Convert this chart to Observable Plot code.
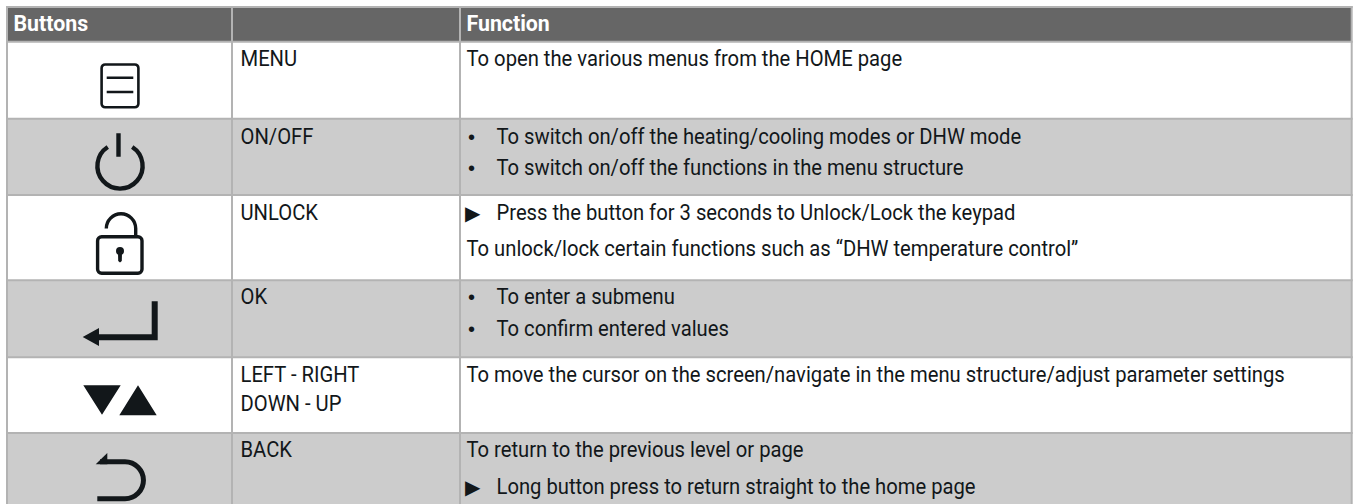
<!DOCTYPE html>
<html>
<head>
<meta charset="utf-8">
<script src="https://cdn.jsdelivr.net/npm/d3@7"></script>
<script src="https://cdn.jsdelivr.net/npm/@observablehq/plot@0.6"></script>
<style>html,body{margin:0;padding:0;background:#fff;overflow:hidden}</style>
</head>
<body>
<div id="chart"></div>
<script>
// Content
const headers = ["Buttons", "", "Function"];
const buttonNames = ["MENU", "ON/OFF", "UNLOCK", "OK", ["LEFT - RIGHT", "DOWN - UP"], "BACK"];
const functionTexts = [
  [{t: "To open the various menus from the HOME page"}],
  [{b: "•", t: "To switch on/off the heating/cooling modes or DHW mode"},
   {b: "•", t: "To switch on/off the functions in the menu structure"}],
  [{b: "▶", t: "Press the button for 3 seconds to Unlock/Lock the keypad"},
   {t: "To unlock/lock certain functions such as “DHW temperature control”"}],
  [{b: "•", t: "To enter a submenu"},
   {b: "•", t: "To confirm entered values"}],
  [{t: "To move the cursor on the screen/navigate in the menu structure/adjust parameter settings"}],
  [{t: "To return to the previous level or page"},
   {b: "▶", t: "Long button press to return straight to the home page"}]
];

// Table geometry
const W = 1356, H = 504;
const colEdges = [7, 232, 460, 1351.7];
const rowEdges = [7, 41.7, 118.7, 195, 280.3, 357.3, 433];
const nameBaselines = [[65.7], [143.3], [219], [303.7], [381.3, 410.3], [456.3]];
const funcBaselines = [[65.7], [143.3, 174.7], [219, 255], [303.7, 335.3], [381.3], [456.3, 493.7]];
const iconCentres = [[120, 86], [120, 166], [120, 250], [120, 320], [120, 400], [120, 480]];

const INK = "#12171a", LINE = "#b3b3b3", HEAD = "#666666", STRIPE = "#cccccc";
const FONT = "Roboto,sans-serif";

// Icons as custom symbols, drawn around their own centre
const sym = draw => ({draw});
const icons = [
  {fill: "none", strokeWidth: 2.6, sym: sym(c => {
    const x0=-18.4,x1=18.4,y0=-21.5,y1=21.3,r=3.5;
    c.moveTo(x0+r,y0); c.lineTo(x1-r,y0); c.arcTo(x1,y0,x1,y0+r,r); c.lineTo(x1,y1-r); c.arcTo(x1,y1,x1-r,y1,r);
    c.lineTo(x0+r,y1); c.arcTo(x0,y1,x0,y1-r,r); c.lineTo(x0,y0+r); c.arcTo(x0,y0,x0+r,y0,r); c.closePath();
    c.moveTo(-13.3,-8.3); c.lineTo(13.3,-8.3); c.moveTo(-13.3,6); c.lineTo(13.3,6);
  })},
  {fill: "none", strokeWidth: 4.4, sym: sym(c => {
    const a = Math.asin(19/22.6);
    c.moveTo(22.6*Math.cos(-a),22.6*Math.sin(-a));
    c.arc(0,0,22.6,-a,Math.PI+a);
    c.moveTo(-1.5,-32.7); c.lineTo(-1.5,-9.3);
  })},
  {fill: "none", strokeWidth: 3.4, sym: sym(c => {
    const x0=-22.4,x1=22,y0=-13.3,y1=23.3,r=4;
    c.moveTo(x0+r,y0); c.lineTo(x1-r,y0); c.arcTo(x1,y0,x1,y0+r,r); c.lineTo(x1,y1-r); c.arcTo(x1,y1,x1-r,y1,r);
    c.lineTo(x0+r,y1); c.arcTo(x0,y1,x0,y1-r,r); c.lineTo(x0,y0+r); c.arcTo(x0,y0,x0+r,y0,r); c.closePath();
    c.moveTo(-13.7,-21.5); c.arc(1,-21.5,14.7,Math.PI,0); c.lineTo(15.7,-13.3);
  })},
  {fill: INK, strokeWidth: 0, sym: sym(c => {
    c.moveTo(37.7,-18.7); c.lineTo(31.7,-18.7); c.lineTo(31.7,14.3); c.lineTo(-21,14.3); c.lineTo(-21,8);
    c.lineTo(-37.3,17); c.lineTo(-21,26); c.lineTo(-21,20.3); c.lineTo(37.7,20.3); c.closePath();
  })},
  {fill: INK, strokeWidth: 0, sym: sym(c => {
    c.moveTo(-36.7,-14.7); c.lineTo(0.7,-14.7); c.lineTo(-18,14.7); c.closePath();
    c.moveTo(-0.7,15.3); c.lineTo(36.7,15.3); c.lineTo(18,-14.7); c.closePath();
  })},
  {fill: "none", strokeWidth: 5, sym: sym(c => {
    c.moveTo(-22.7,18.7); c.lineTo(5,18.7); c.arc(5,0.25,18.45,Math.PI/2,-Math.PI/2,true); c.lineTo(-20,-18.2);
  })}
];
const iconExtras = [
  {row: 2, fill: INK, sym: sym(c => {
    c.arc(0,0,4,0,2*Math.PI); c.closePath();
    c.moveTo(-2,2); c.lineTo(2,2); c.lineTo(1.8,10); c.lineTo(0,11.5); c.lineTo(-1.8,10); c.closePath();
  }), dy: 1},
  {row: 5, fill: INK, sym: sym(c => {
    c.moveTo(-24.3,-15.7); c.lineTo(-12.7,-27); c.lineTo(-12.7,-15.7); c.closePath();
  }), dy: 0}
];

// Tables for the marks
const stripes = d3.range(6).filter(i => i % 2 === 1).map(i => ({y1: rowEdges[i + 1], y2: rowEdges[i + 2] ?? H + 10}));
const headerCells = headers.map((h, i) => ({text: h, x: colEdges[i] + 6}));
const nameRows = buttonNames.flatMap((n, i) => [].concat(n).map((t, j) => ({text: t, y: nameBaselines[i][j]})));
const funcRows = functionTexts.flatMap((lines, i) => lines.map((l, j) => ({...l, y: funcBaselines[i][j]})));
const textX = colEdges[2] + 6, hangX = colEdges[2] + 36, nameX = colEdges[1] + 8;

const textOpts = {textAnchor: "start", lineAnchor: "bottom", fontFamily: FONT, fontSize: 22, fill: INK, lineWidth: Infinity};

const plot = Plot.plot({
  width: W, height: H, margin: 0,
  x: {domain: [0, W], range: [0, W], axis: null},
  y: {domain: [0, H], range: [0, H], axis: null},
  style: {background: "#fff", overflow: "hidden"},
  marks: [
    Plot.rect([0], {x1: colEdges[0], x2: colEdges[3], y1: rowEdges[0], y2: rowEdges[1], fill: HEAD}),
    Plot.rect(stripes, {x1: colEdges[0], x2: colEdges[3], y1: "y1", y2: "y2", fill: STRIPE}),
    Plot.ruleY(rowEdges, {x1: colEdges[0] - 1, x2: colEdges[3] + 1, stroke: LINE, strokeWidth: 2, dy: -0.5}),
    Plot.ruleX(colEdges, {y1: rowEdges[0] - 1, y2: H + 10, stroke: LINE, strokeWidth: 2, dx: -0.5}),
    Plot.text(headerCells.filter(d => d.text), {x: "x", y: () => 30, text: "text", ...textOpts, fill: "#fff", fontWeight: "bold"}),
    Plot.text(nameRows, {x: () => nameX, y: "y", text: "text", ...textOpts}),
    Plot.text(funcRows, {x: d => d.b ? hangX : textX, y: "y", text: "t", ...textOpts}),
    Plot.text(funcRows.filter(d => d.b === "•"), {x: () => textX + 1.5, y: "y", text: "b", ...textOpts, fontFamily: "'Liberation Sans'", fontSize: 20}),
    Plot.text(funcRows.filter(d => d.b === "▶"), {x: () => textX - 1.5, y: "y", text: "b", ...textOpts, fontFamily: "'DejaVu Sans'", fontSize: 20}),
    ...icons.map((ic, i) => Plot.dot([iconCentres[i]], {
      x: d => d[0], y: d => d[1], r: 10, symbol: ic.sym,
      fill: ic.fill, stroke: ic.fill === "none" ? INK : "none", strokeWidth: ic.strokeWidth, dx: -0.5, dy: -0.5
    })),
    ...iconExtras.map(e => Plot.dot([iconCentres[e.row]], {
      x: d => d[0], y: d => d[1] + e.dy, r: 10, symbol: e.sym, fill: e.fill, stroke: "none", dx: -0.5, dy: -0.5
    }))
  ]
});
document.getElementById("chart").appendChild(plot);

// The reference face is slightly condensed: narrow each line to the same degree
plot.querySelectorAll("text").forEach(t => {
  if (t.textContent.length < 2) return;
  const bold = t.closest("g")?.getAttribute("font-weight") === "bold";
  const k = bold ? 0.97 : 0.919;
  t.setAttribute("transform", `${t.getAttribute("transform") || ""} scale(${k},1)`);
});
</script>
</body>
</html>
